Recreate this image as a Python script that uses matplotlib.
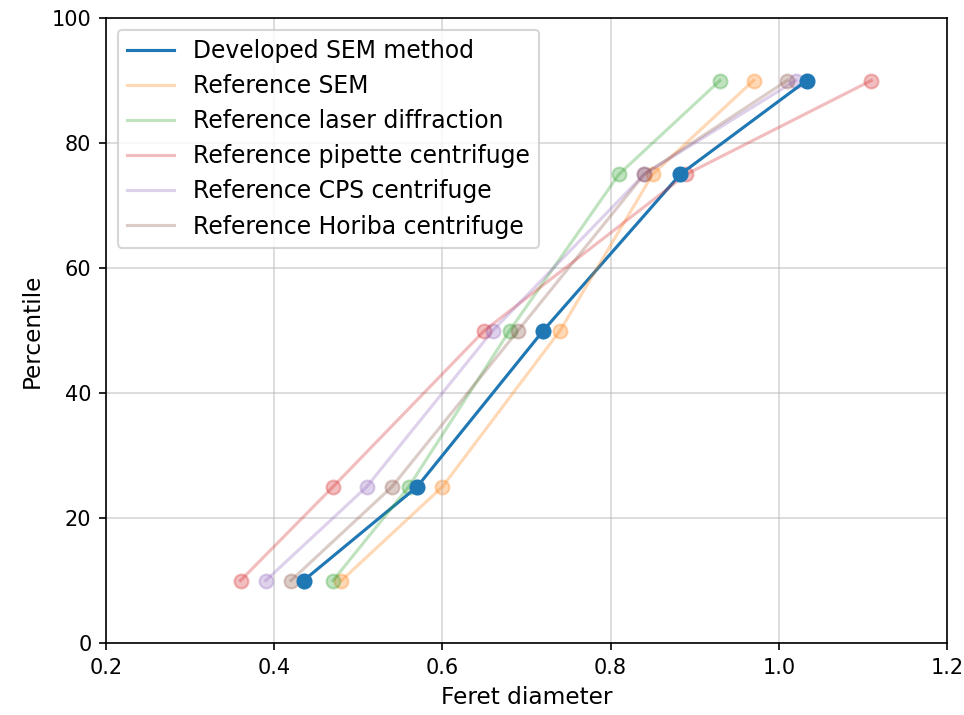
import matplotlib
matplotlib.use("Agg")
import matplotlib.pyplot as plt

percentiles = [10, 25, 50, 75, 90]

developed_sem = [0.435, 0.57, 0.72, 0.883, 1.033]
reference_sem = [0.48, 0.60, 0.74, 0.85, 0.97]
laser_diffraction = [0.47, 0.56, 0.68, 0.81, 0.93]
pipette_centrifuge = [0.36, 0.47, 0.65, 0.89, 1.11]
cps_centrifuge = [0.39, 0.51, 0.66, 0.84, 1.02]
horiba_centrifuge = [0.42, 0.54, 0.69, 0.84, 1.01]

fig = plt.figure(figsize=(964 / 150, 715 / 150), dpi=150)
ax = fig.add_axes([106 / 964, 72 / 715, 841 / 964, 625 / 715])

ax.plot(developed_sem, percentiles, color="C0", label="Developed SEM method")
ax.scatter(developed_sem, percentiles, color="C0", s=45, zorder=3)

others = [
    (reference_sem, "Reference SEM", "C1"),
    (laser_diffraction, "Reference laser diffraction", "C2"),
    (pipette_centrifuge, "Reference pipette centrifuge", "C3"),
    (cps_centrifuge, "Reference CPS centrifuge", "C4"),
    (horiba_centrifuge, "Reference Horiba centrifuge", "C5"),
]
for values, label, color in others:
    ax.plot(values, percentiles, color=color, alpha=0.3, label=label)
    ax.scatter(values, percentiles, color=color, alpha=0.3, s=45)

ax.set_xlim(0.2, 1.2)
ax.set_ylim(0, 100)
ax.set_xlabel("Feret diameter", fontsize=11.2)
ax.set_ylabel("Percentile", fontsize=11.2)
ax.grid(True, alpha=0.5)
ax.legend(loc="upper left", fontsize=11.3, labelspacing=0.47)

fig.savefig("out.png", dpi=150)
